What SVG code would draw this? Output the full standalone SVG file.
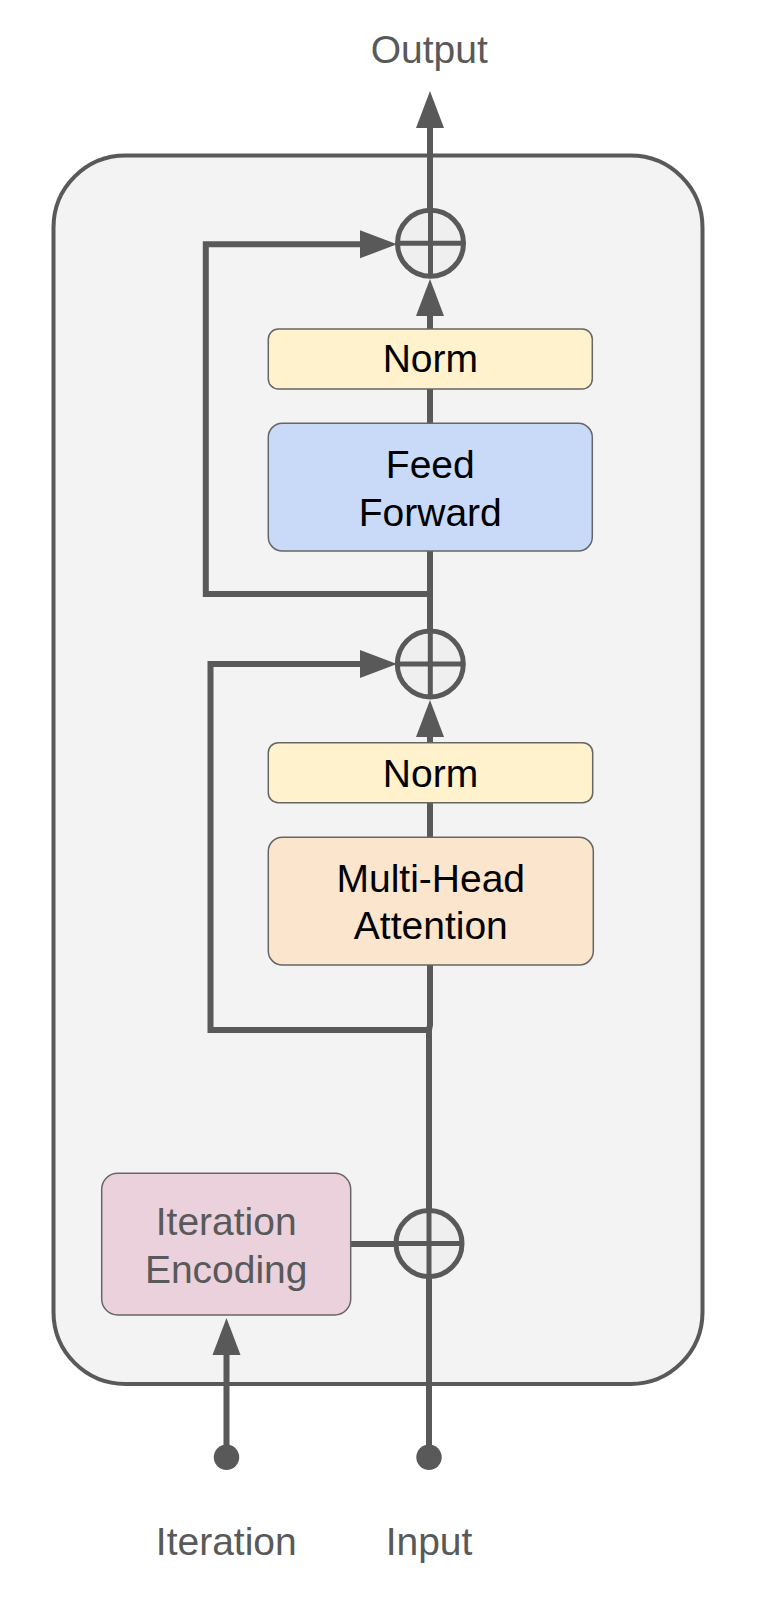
<svg xmlns="http://www.w3.org/2000/svg" width="758" height="1614" viewBox="0 0 758 1614">
<style>
.t{font-family:"Liberation Sans",Arial,sans-serif;font-size:39px;text-anchor:middle}
.dark{fill:#000}
.grey{fill:#595959}
.box{stroke:#666;stroke-width:1.5}
.ln{fill:none;stroke:#595959;stroke-width:6}
.sum{fill:#efefef;stroke:#595959;stroke-width:5}
.cross{stroke:#595959;stroke-width:5}
</style>
<defs>
<marker id="arr" markerUnits="userSpaceOnUse" markerWidth="38" markerHeight="30" viewBox="0 0 38 28" refX="1" refY="14" orient="auto">
<path d="M0,0 L37,14 L0,28 z" fill="#595959"/>
</marker>
</defs>
<rect width="758" height="1614" fill="#fff"/>
<g id="container">
<rect x="53.5" y="155.5" width="649" height="1228.5" rx="72" ry="72" fill="#f3f3f3" stroke="#595959" stroke-width="4"/>
</g>
<g id="connectors">
<line class="ln" x1="430" y1="243" x2="430" y2="127" marker-end="url(#arr)"/>
<path class="ln" d="M430,594 H205.8 V244.3 H361" marker-end="url(#arr)"/>
<line class="ln" x1="430" y1="329" x2="430" y2="315" marker-end="url(#arr)"/>
<line class="ln" x1="430" y1="389" x2="430" y2="423.5"/>
<line class="ln" x1="430" y1="551" x2="430" y2="664"/>
<line class="ln" x1="430" y1="742.7" x2="430" y2="736" marker-end="url(#arr)"/>
<path class="ln" d="M430,1030 H210.5 V664 H361" marker-end="url(#arr)"/>
<line class="ln" x1="430" y1="802.7" x2="430" y2="837.3"/>
<path class="ln" d="M429,1457 V1030 L430,1025 V965"/>
<line class="ln" x1="226.5" y1="1457" x2="226.5" y2="1354" marker-end="url(#arr)"/>
<line class="ln" x1="350.7" y1="1244" x2="396" y2="1244"/>
<circle cx="226.5" cy="1457.3" r="12.7" fill="#595959"/>
<circle cx="429" cy="1457.3" r="12.7" fill="#595959"/>
</g>
<g id="sum-top">
<circle class="sum" cx="430.5" cy="243.3" r="33"/>
<line class="cross" x1="397.5" y1="243.3" x2="463.5" y2="243.3"/>
<line class="cross" x1="430.5" y1="210.3" x2="430.5" y2="276.3"/>
</g>
<g id="sum-mid">
<circle class="sum" cx="430.3" cy="664" r="33"/>
<line class="cross" x1="397.3" y1="664" x2="463.3" y2="664"/>
<line class="cross" x1="430.3" y1="631" x2="430.3" y2="697"/>
</g>
<g id="sum-bottom">
<circle class="sum" cx="429" cy="1243.5" r="33"/>
<line class="cross" x1="396" y1="1243.5" x2="462" y2="1243.5"/>
<line class="cross" x1="429" y1="1210.5" x2="429" y2="1276.5"/>
</g>
<g id="norm-top">
<rect class="box" x="268.3" y="329" width="324" height="60" rx="10" fill="#fff2cc"/>
<text class="t dark" x="430.3" y="371.7">Norm</text>
</g>
<g id="feed-forward">
<rect class="box" x="268.3" y="423.3" width="324" height="127.7" rx="14" fill="#c9daf8"/>
<text class="t dark" x="430.3" y="477.7">Feed</text>
<text class="t dark" x="430.3" y="525.7">Forward</text>
</g>
<g id="norm-bottom">
<rect class="box" x="268.3" y="742.7" width="324.4" height="60" rx="10" fill="#fff2cc"/>
<text class="t dark" x="430.5" y="786.7">Norm</text>
</g>
<g id="multi-head">
<rect class="box" x="268.3" y="837.3" width="325" height="127.7" rx="14" fill="#fce5cd"/>
<text class="t dark" x="430.8" y="891.7">Multi-Head</text>
<text class="t dark" x="430.8" y="939">Attention</text>
</g>
<g id="iteration-encoding">
<rect class="box" x="101.7" y="1173.3" width="249" height="141.7" rx="16" fill="#ead1dc"/>
<text class="t grey" x="226.2" y="1235">Iteration</text>
<text class="t grey" x="226.2" y="1283.3">Encoding</text>
</g>
<g id="output-label">
<text class="t grey" x="429.2" y="62.7">Output</text>
</g>
<g id="iteration-label">
<text class="t grey" x="226.3" y="1555">Iteration</text>
</g>
<g id="input-label">
<text class="t grey" x="429" y="1555">Input</text>
</g>
</svg>
